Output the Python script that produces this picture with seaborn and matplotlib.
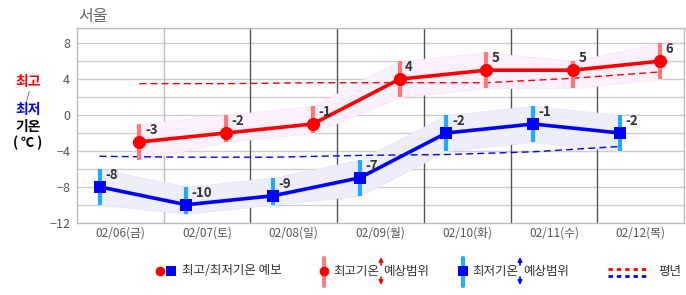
import numpy as np
import pandas as pd
import matplotlib
matplotlib.use("Agg")
import matplotlib.pyplot as plt
import seaborn as sns

# ---------------- data ----------------
dates = ["02/06(금)", "02/07(토)", "02/08(일)", "02/09(월)", "02/10(화)", "02/11(수)", "02/12(목)"]
high = [-3, -2, -1, 4, 5, 5, 6]
high_top = [-1, 0, 1, 6, 7, 6, 8]
high_bot = [-5, -3, -2, 2, 3, 3, 4]
low = [-8, -10, -9, -7, -2, -1, -2]
low_top = [-6, -8, -7, -5, 0, 1, 0]
low_bot = [-10, -11, -10, -9, -4, -3, -4]
high_norm = [3.5, 3.5, 3.6, 3.6, 3.6, 4.1, 4.8]
low_norm = [-4.6, -4.7, -4.7, -4.5, -4.4, -4.1, -3.5]
yticks = [-12, -8, -4, 0, 4, 8]

sns.set_style("white")
plt.rcParams["font.family"] = ["Noto Sans CJK KR", "DejaVu Sans"]

W, H = 686, 295
fig = plt.figure(figsize=(W / 100, H / 100), dpi=100)
fig.patch.set_facecolor("white")

ax = fig.add_axes([77 / W, 1 - 222.7 / H, (684 - 77) / W, (222.7 - 28) / H])

idx = np.arange(len(dates))
xh = idx + 0.22
xl = idx - 0.24

df_h = pd.DataFrame({"x": xh, "y": high, "top": high_top, "bot": high_bot, "norm": high_norm})
df_l = pd.DataFrame({"x": xl, "y": low, "top": low_top, "bot": low_bot, "norm": low_norm})

# grid
for v in range(-10, 10, 2):
    ax.axhline(v, color="#cccccc", lw=1, zorder=0)
for i, b in enumerate(np.arange(0.5, 6.5, 1.0)):
    ax.axvline(b, color="#bbbbbb" if i == 0 else "#555555", lw=1, zorder=0)

# bands
ax.fill_between(df_h["x"], df_h["bot"], df_h["top"], color="#fdf0fd", edgecolor="#f8e4f8", lw=0.6, zorder=1)
ax.fill_between(df_l["x"], df_l["bot"], df_l["top"], color="#eeeefb", edgecolor="#e4e4f8", lw=0.6, zorder=1)

# normals
sns.lineplot(data=df_h, x="x", y="norm", ax=ax, color="#ff0000", lw=1, zorder=2)
sns.lineplot(data=df_l, x="x", y="norm", ax=ax, color="#0000ff", lw=1, zorder=2)
for ln in ax.lines[-2:]:
    ln.set_dashes((5, 3))

# range bars
ax.vlines(df_h["x"], df_h["bot"], df_h["top"], color="#ff7878", lw=3, zorder=4)
ax.vlines(df_l["x"], df_l["bot"], df_l["top"], color="#1eaaff", lw=3, zorder=4)

# main lines
sns.lineplot(data=df_h, x="x", y="y", ax=ax, color="#ff0000", lw=2.6, marker="o",
             markersize=9.5, markeredgewidth=0, zorder=6)
sns.lineplot(data=df_l, x="x", y="y", ax=ax, color="#0000ff", lw=2.6, marker="s",
             markersize=9, markeredgewidth=0, zorder=6)

for xs, ys in ((xh, high), (xl, low)):
    for xv, yv in zip(xs, ys):
        ax.annotate(f"{yv}", (xv, yv), xytext=(4, 8.5), textcoords="offset points",
                    ha="left", va="center", fontsize=9.5, fontweight="bold", color="#333333", zorder=7)

ax.set_xlim(-0.5, 6.5)
ax.set_ylim(-12, 9.7)
ax.set_xticks(idx)
ax.set_xticklabels(dates)
ax.set_yticks(yticks)
ax.set_xlabel("")
ax.set_ylabel("")
ax.tick_params(axis="both", length=0, colors="#555555")
ax.tick_params(axis="x", labelsize=8.5, pad=3)
ax.tick_params(axis="y", labelsize=9, pad=5)
for s in ("left", "bottom", "top", "right"):
    ax.spines[s].set_color("#bbbbbb")
    ax.spines[s].set_linewidth(1)

# title and left label
fig.text(78 / W, 1 - 16 / H, "서울", fontsize=11.5, color="#666666", va="center", ha="left")
lx = 28 / W
fig.text(lx, 1 - 82 / H, "최고", color="#ff0000", fontsize=10, fontweight="bold", ha="center", va="center")
fig.text(lx, 1 - 96 / H, "/", color="#333333", fontsize=7, ha="center", va="center")
fig.text(lx, 1 - 110 / H, "최저", color="#0000ff", fontsize=10, fontweight="bold", ha="center", va="center")
fig.text(lx, 1 - 127 / H, "기온", color="#000000", fontsize=10, fontweight="bold", ha="center", va="center")
fig.text(lx, 1 - 143 / H, "( ℃ )", color="#000000", fontsize=9.5, fontweight="bold", ha="center", va="center")

# legend (pixel coordinates)
lg = fig.add_axes([0, 0, 1, 1], zorder=-1)
lg.set_xlim(0, W)
lg.set_ylim(H, 0)
lg.axis("off")
ly = 271
tcol = "#333333"
lfs = 9
lg.plot([160], [ly], "o", color="#ff0000", ms=7, mew=0)
lg.plot([171], [ly], "s", color="#0000ff", ms=6.5, mew=0)
lg.text(182, ly, "최고/최저기온 예보", fontsize=lfs, color=tcol, va="center", ha="left")

lg.plot([324, 324], [258, 286], color="#ff8080", lw=3)
lg.plot([324], [ly], "o", color="#ff0000", ms=7, mew=0)
lg.text(333, ly, "최고기온", fontsize=lfs, color=tcol, va="center", ha="left")
lg.text(383, ly, "예상범위", fontsize=lfs, color=tcol, va="center", ha="left")
for (y0, y1) in ((265, 257), (277, 285)):
    lg.annotate("", xy=(381, y1), xytext=(381, y0),
                arrowprops=dict(arrowstyle="-|>", color="#ff0000", lw=1.2, mutation_scale=6,
                                shrinkA=0, shrinkB=0))

lg.plot([463, 463], [258, 286], color="#20b0ff", lw=3)
lg.plot([463], [ly], "s", color="#0000ff", ms=6.5, mew=0)
lg.text(472, ly, "최저기온", fontsize=lfs, color=tcol, va="center", ha="left")
lg.text(523, ly, "예상범위", fontsize=lfs, color=tcol, va="center", ha="left")
for (y0, y1) in ((265, 257), (277, 285)):
    lg.annotate("", xy=(520, y1), xytext=(520, y0),
                arrowprops=dict(arrowstyle="-|>", color="#0000ff", lw=1.2, mutation_scale=6,
                                shrinkA=0, shrinkB=0))

l1, = lg.plot([608, 648], [268.5, 268.5], color="#ff0000", lw=2)
l2, = lg.plot([608, 648], [275.5, 275.5], color="#0000ff", lw=2)
for l in (l1, l2):
    l.set_dashes((1.6, 1.4))
lg.text(658, ly, "평년", fontsize=lfs, color=tcol, va="center", ha="left")

fig.savefig("out.png", dpi=100, facecolor="white")
